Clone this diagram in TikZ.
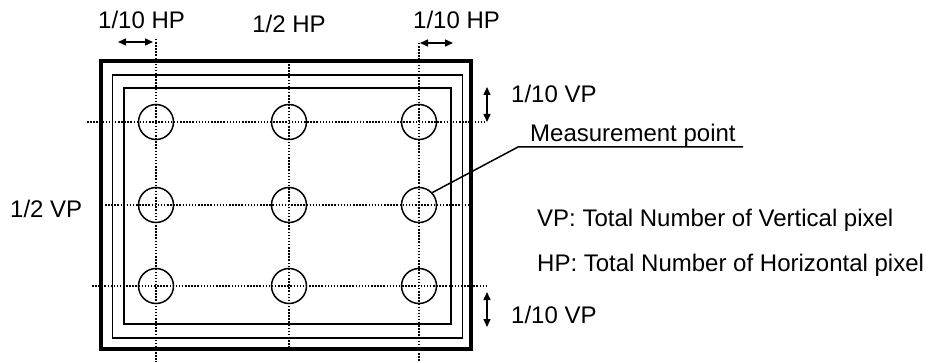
\documentclass[tikz,border=0pt]{standalone}
\usepackage{fontspec}
\setmainfont{Liberation Sans}
\usetikzlibrary{arrows.meta}

\begin{document}
\begin{tikzpicture}[
    x=1pt, y=-1pt,
    frame/.style={draw, line width=1.4pt},
    guide/.style={line width=1.5pt, dash pattern=on 1.5pt off 1.6pt},
    mpoint/.style={circle, draw, line width=1.5pt, minimum size=35pt, inner sep=0pt},
    dim/.style={{Triangle[length=8pt,width=7pt]}-{Triangle[length=8pt,width=7pt]}, line width=1.5pt},
    lbl/.style={anchor=base west, inner sep=0pt, font=\fontsize{24}{28}\selectfont},
]
\useasboundingbox (0,0) rectangle (933,363);

%% Screen frames
\draw[frame, line width=4pt] (100.5,61) rectangle (471,349);
\draw[frame] (112.7,75) rectangle (462.7,338);
\draw[frame] (124,88) rectangle (451,324);

%% Guide lines
\foreach \x/\top/\bot in {156/39/362, 289/61/349, 419/43/362}
    \draw[guide] (\x,\top) -- (\x,\bot);
\foreach \y/\lft/\rgt in {122/87/486, 205/105/470, 286/92/487}
    \draw[guide] (\lft,\y) -- (\rgt,\y);

%% Measurement points
\foreach \x [count=\c] in {156,289,419}
    \foreach \y [count=\r] in {122,205,286}
        \node[mpoint] (m\r\c) at (\x,\y) {};

%% Dimension arrows
\draw[dim] (118,42) -- (153,42);
\draw[dim] (420,43) -- (453,43);
\draw[dim] (487,87) -- (487,122);
\draw[dim] (487,292) -- (487,327);

%% Labels
\node[lbl] (hpl)   at (98,29)   {1/10 HP};
\node[lbl, anchor=base] (hpm) at (289,33) {1/2 HP};
\node[lbl] (hpr)   at (413,29)  {1/10 HP};
\node[lbl] (vpt)   at (511,103) {1/10 VP};
\node[lbl] (meas)  at (530,142) {Measurement point};
\node[lbl] (vpm)   at (10,218)  {1/2 VP};
\node[lbl] (vpdef) at (537,226) {VP: Total Number of Vertical pixel};
\node[lbl] (hpdef) at (537,271) {HP: Total Number of Horizontal pixel};
\node[lbl] (vpb)   at (511,323) {1/10 VP};

%% Leader line
\coordinate (lead) at (518,147);
\draw[line width=1.5pt] (m23.43) -- (lead) -- (743,147);

\end{tikzpicture}
\end{document}
